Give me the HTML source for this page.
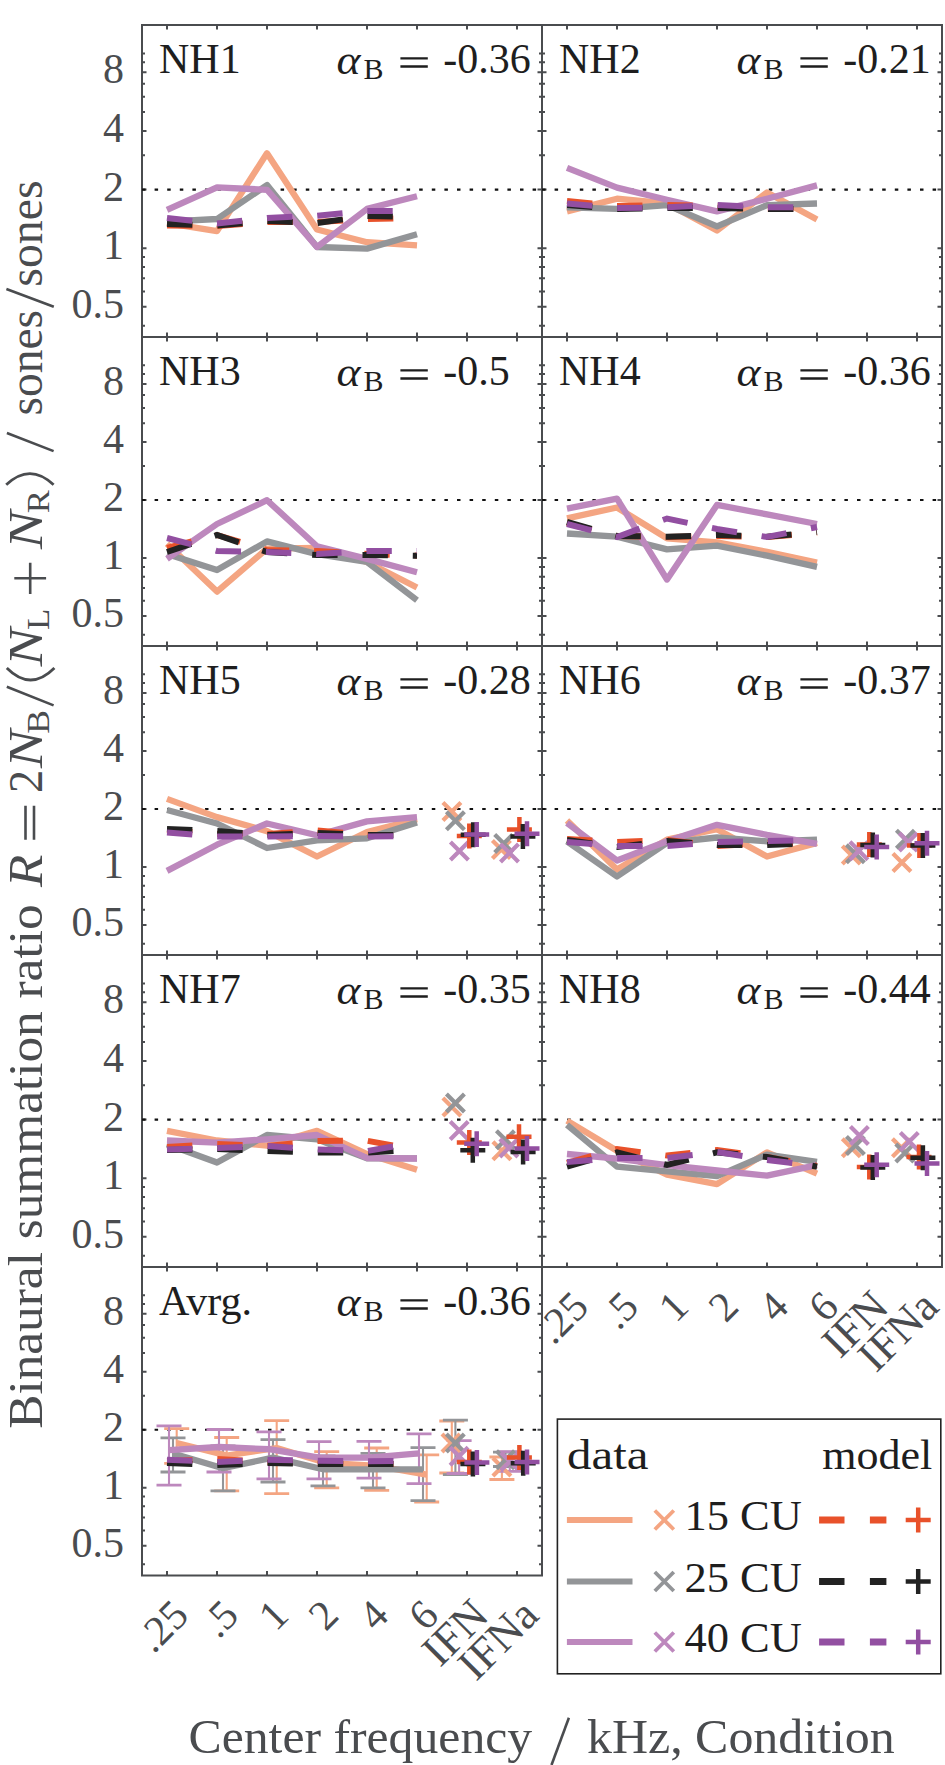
<!DOCTYPE html><html><head><meta charset="utf-8"><style>html,body{margin:0;padding:0;background:#fff}svg{display:block}</style></head><body><svg width="945" height="1765" viewBox="0 0 945 1765">
<style>text{font-family:"Liberation Serif",serif;}.tl{font-size:42px;fill:#4a4c4f}.pl{font-size:42px;fill:#1e1e1e}.al{font-size:48px;fill:#4a4c4f}</style>
<rect width="945" height="1765" fill="#fff"/>
<rect x="142" y="25" width="400" height="312" fill="none" stroke="#4a4c4f" stroke-width="2"/>
<path d="M167 25v4.5M167 337v-4.5M217 25v4.5M217 337v-4.5M267 25v4.5M267 337v-4.5M317 25v4.5M317 337v-4.5M367 25v4.5M367 337v-4.5M417 25v4.5M417 337v-4.5M467 25v4.5M467 337v-4.5M517 25v4.5M517 337v-4.5M142 306.83h4.5M542 306.83h-4.5M142 248.21h4.5M542 248.21h-4.5M142 189.58h4.5M542 189.58h-4.5M142 130.96h4.5M542 130.96h-4.5M142 72.33h4.5M542 72.33h-4.5M142 325.71h3M542 325.71h-3M142 291.41h3M542 291.41h-3M142 278.37h3M542 278.37h-3M142 267.08h3M542 267.08h-3M142 257.12h3M542 257.12h-3M142 155.29h3M542 155.29h-3M142 112.08h3M542 112.08h-3M142 96.66h3M542 96.66h-3M142 83.63h3M542 83.63h-3M142 62.37h3M542 62.37h-3M142 53.46h3M542 53.46h-3" stroke="#4a4c4f" stroke-width="2" fill="none"/>
<line x1="142" y1="189.58" x2="542" y2="189.58" stroke="#111" stroke-width="2.2" stroke-dasharray="3.5 9.1"/>
<rect x="542" y="25" width="400" height="312" fill="none" stroke="#4a4c4f" stroke-width="2"/>
<path d="M567 25v4.5M567 337v-4.5M617 25v4.5M617 337v-4.5M667 25v4.5M667 337v-4.5M717 25v4.5M717 337v-4.5M767 25v4.5M767 337v-4.5M817 25v4.5M817 337v-4.5M867 25v4.5M867 337v-4.5M917 25v4.5M917 337v-4.5M542 306.83h4.5M942 306.83h-4.5M542 248.21h4.5M942 248.21h-4.5M542 189.58h4.5M942 189.58h-4.5M542 130.96h4.5M942 130.96h-4.5M542 72.33h4.5M942 72.33h-4.5M542 325.71h3M942 325.71h-3M542 291.41h3M942 291.41h-3M542 278.37h3M942 278.37h-3M542 267.08h3M942 267.08h-3M542 257.12h3M942 257.12h-3M542 155.29h3M942 155.29h-3M542 112.08h3M942 112.08h-3M542 96.66h3M942 96.66h-3M542 83.63h3M942 83.63h-3M542 62.37h3M942 62.37h-3M542 53.46h3M942 53.46h-3" stroke="#4a4c4f" stroke-width="2" fill="none"/>
<line x1="542" y1="189.58" x2="942" y2="189.58" stroke="#111" stroke-width="2.2" stroke-dasharray="3.5 9.1"/>
<rect x="142" y="337" width="400" height="309" fill="none" stroke="#4a4c4f" stroke-width="2"/>
<path d="M167 337v4.5M167 646v-4.5M217 337v4.5M217 646v-4.5M267 337v4.5M267 646v-4.5M317 337v4.5M317 646v-4.5M367 337v4.5M367 646v-4.5M417 337v4.5M417 646v-4.5M467 337v4.5M467 646v-4.5M517 337v4.5M517 646v-4.5M142 616.12h4.5M542 616.12h-4.5M142 558.06h4.5M542 558.06h-4.5M142 500h4.5M542 500h-4.5M142 441.94h4.5M542 441.94h-4.5M142 383.88h4.5M542 383.88h-4.5M142 634.81h3M542 634.81h-3M142 600.85h3M542 600.85h-3M142 587.94h3M542 587.94h-3M142 576.75h3M542 576.75h-3M142 566.89h3M542 566.89h-3M142 466.04h3M542 466.04h-3M142 423.25h3M542 423.25h-3M142 407.97h3M542 407.97h-3M142 395.06h3M542 395.06h-3M142 374.01h3M542 374.01h-3M142 365.18h3M542 365.18h-3" stroke="#4a4c4f" stroke-width="2" fill="none"/>
<line x1="142" y1="500" x2="542" y2="500" stroke="#111" stroke-width="2.2" stroke-dasharray="3.5 9.1"/>
<rect x="542" y="337" width="400" height="309" fill="none" stroke="#4a4c4f" stroke-width="2"/>
<path d="M567 337v4.5M567 646v-4.5M617 337v4.5M617 646v-4.5M667 337v4.5M667 646v-4.5M717 337v4.5M717 646v-4.5M767 337v4.5M767 646v-4.5M817 337v4.5M817 646v-4.5M867 337v4.5M867 646v-4.5M917 337v4.5M917 646v-4.5M542 616.12h4.5M942 616.12h-4.5M542 558.06h4.5M942 558.06h-4.5M542 500h4.5M942 500h-4.5M542 441.94h4.5M942 441.94h-4.5M542 383.88h4.5M942 383.88h-4.5M542 634.81h3M942 634.81h-3M542 600.85h3M942 600.85h-3M542 587.94h3M942 587.94h-3M542 576.75h3M942 576.75h-3M542 566.89h3M942 566.89h-3M542 466.04h3M942 466.04h-3M542 423.25h3M942 423.25h-3M542 407.97h3M942 407.97h-3M542 395.06h3M942 395.06h-3M542 374.01h3M942 374.01h-3M542 365.18h3M942 365.18h-3" stroke="#4a4c4f" stroke-width="2" fill="none"/>
<line x1="542" y1="500" x2="942" y2="500" stroke="#111" stroke-width="2.2" stroke-dasharray="3.5 9.1"/>
<rect x="142" y="646" width="400" height="309" fill="none" stroke="#4a4c4f" stroke-width="2"/>
<path d="M167 646v4.5M167 955v-4.5M217 646v4.5M217 955v-4.5M267 646v4.5M267 955v-4.5M317 646v4.5M317 955v-4.5M367 646v4.5M367 955v-4.5M417 646v4.5M417 955v-4.5M467 646v4.5M467 955v-4.5M517 646v4.5M517 955v-4.5M142 925.12h4.5M542 925.12h-4.5M142 867.06h4.5M542 867.06h-4.5M142 809h4.5M542 809h-4.5M142 750.94h4.5M542 750.94h-4.5M142 692.88h4.5M542 692.88h-4.5M142 943.81h3M542 943.81h-3M142 909.85h3M542 909.85h-3M142 896.94h3M542 896.94h-3M142 885.75h3M542 885.75h-3M142 875.89h3M542 875.89h-3M142 775.04h3M542 775.04h-3M142 732.25h3M542 732.25h-3M142 716.97h3M542 716.97h-3M142 704.06h3M542 704.06h-3M142 683.01h3M542 683.01h-3M142 674.18h3M542 674.18h-3" stroke="#4a4c4f" stroke-width="2" fill="none"/>
<line x1="142" y1="809" x2="542" y2="809" stroke="#111" stroke-width="2.2" stroke-dasharray="3.5 9.1"/>
<rect x="542" y="646" width="400" height="309" fill="none" stroke="#4a4c4f" stroke-width="2"/>
<path d="M567 646v4.5M567 955v-4.5M617 646v4.5M617 955v-4.5M667 646v4.5M667 955v-4.5M717 646v4.5M717 955v-4.5M767 646v4.5M767 955v-4.5M817 646v4.5M817 955v-4.5M867 646v4.5M867 955v-4.5M917 646v4.5M917 955v-4.5M542 925.12h4.5M942 925.12h-4.5M542 867.06h4.5M942 867.06h-4.5M542 809h4.5M942 809h-4.5M542 750.94h4.5M942 750.94h-4.5M542 692.88h4.5M942 692.88h-4.5M542 943.81h3M942 943.81h-3M542 909.85h3M942 909.85h-3M542 896.94h3M942 896.94h-3M542 885.75h3M942 885.75h-3M542 875.89h3M942 875.89h-3M542 775.04h3M942 775.04h-3M542 732.25h3M942 732.25h-3M542 716.97h3M942 716.97h-3M542 704.06h3M942 704.06h-3M542 683.01h3M942 683.01h-3M542 674.18h3M942 674.18h-3" stroke="#4a4c4f" stroke-width="2" fill="none"/>
<line x1="542" y1="809" x2="942" y2="809" stroke="#111" stroke-width="2.2" stroke-dasharray="3.5 9.1"/>
<rect x="142" y="955" width="400" height="312" fill="none" stroke="#4a4c4f" stroke-width="2"/>
<path d="M167 955v4.5M167 1267v-4.5M217 955v4.5M217 1267v-4.5M267 955v4.5M267 1267v-4.5M317 955v4.5M317 1267v-4.5M367 955v4.5M367 1267v-4.5M417 955v4.5M417 1267v-4.5M467 955v4.5M467 1267v-4.5M517 955v4.5M517 1267v-4.5M142 1236.83h4.5M542 1236.83h-4.5M142 1178.21h4.5M542 1178.21h-4.5M142 1119.58h4.5M542 1119.58h-4.5M142 1060.96h4.5M542 1060.96h-4.5M142 1002.33h4.5M542 1002.33h-4.5M142 1255.71h3M542 1255.71h-3M142 1221.41h3M542 1221.41h-3M142 1208.37h3M542 1208.37h-3M142 1197.08h3M542 1197.08h-3M142 1187.12h3M542 1187.12h-3M142 1085.29h3M542 1085.29h-3M142 1042.08h3M542 1042.08h-3M142 1026.66h3M542 1026.66h-3M142 1013.63h3M542 1013.63h-3M142 992.37h3M542 992.37h-3M142 983.46h3M542 983.46h-3" stroke="#4a4c4f" stroke-width="2" fill="none"/>
<line x1="142" y1="1119.58" x2="542" y2="1119.58" stroke="#111" stroke-width="2.2" stroke-dasharray="3.5 9.1"/>
<rect x="542" y="955" width="400" height="312" fill="none" stroke="#4a4c4f" stroke-width="2"/>
<path d="M567 955v4.5M567 1267v-4.5M617 955v4.5M617 1267v-4.5M667 955v4.5M667 1267v-4.5M717 955v4.5M717 1267v-4.5M767 955v4.5M767 1267v-4.5M817 955v4.5M817 1267v-4.5M867 955v4.5M867 1267v-4.5M917 955v4.5M917 1267v-4.5M542 1236.83h4.5M942 1236.83h-4.5M542 1178.21h4.5M942 1178.21h-4.5M542 1119.58h4.5M942 1119.58h-4.5M542 1060.96h4.5M942 1060.96h-4.5M542 1002.33h4.5M942 1002.33h-4.5M542 1255.71h3M942 1255.71h-3M542 1221.41h3M942 1221.41h-3M542 1208.37h3M942 1208.37h-3M542 1197.08h3M942 1197.08h-3M542 1187.12h3M942 1187.12h-3M542 1085.29h3M942 1085.29h-3M542 1042.08h3M942 1042.08h-3M542 1026.66h3M942 1026.66h-3M542 1013.63h3M942 1013.63h-3M542 992.37h3M942 992.37h-3M542 983.46h3M942 983.46h-3" stroke="#4a4c4f" stroke-width="2" fill="none"/>
<line x1="542" y1="1119.58" x2="942" y2="1119.58" stroke="#111" stroke-width="2.2" stroke-dasharray="3.5 9.1"/>
<rect x="142" y="1267" width="400" height="308.5" fill="none" stroke="#4a4c4f" stroke-width="2"/>
<path d="M167 1267v4.5M167 1575.5v-4.5M217 1267v4.5M217 1575.5v-4.5M267 1267v4.5M267 1575.5v-4.5M317 1267v4.5M317 1575.5v-4.5M367 1267v4.5M367 1575.5v-4.5M417 1267v4.5M417 1575.5v-4.5M467 1267v4.5M467 1575.5v-4.5M517 1267v4.5M517 1575.5v-4.5M142 1545.67h4.5M542 1545.67h-4.5M142 1487.7h4.5M542 1487.7h-4.5M142 1429.74h4.5M542 1429.74h-4.5M142 1371.77h4.5M542 1371.77h-4.5M142 1313.8h4.5M542 1313.8h-4.5M142 1564.33h3M542 1564.33h-3M142 1530.42h3M542 1530.42h-3M142 1517.53h3M542 1517.53h-3M142 1506.37h3M542 1506.37h-3M142 1496.51h3M542 1496.51h-3M142 1395.83h3M542 1395.83h-3M142 1353.11h3M542 1353.11h-3M142 1337.86h3M542 1337.86h-3M142 1324.97h3M542 1324.97h-3M142 1303.95h3M542 1303.95h-3M142 1295.14h3M542 1295.14h-3" stroke="#4a4c4f" stroke-width="2" fill="none"/>
<line x1="142" y1="1429.74" x2="542" y2="1429.74" stroke="#111" stroke-width="2.2" stroke-dasharray="3.5 9.1"/>
<polyline points="167,223.2 217,231.1 267,153.3 317,229.5 367,242.2 417,245.4" fill="none" stroke="#f4a582" stroke-width="6.3" stroke-linejoin="round"/>
<polyline points="167,221.6 217,219 267,185.1 317,247 367,248.6 417,234.3" fill="none" stroke="#939598" stroke-width="6.3" stroke-linejoin="round"/>
<polyline points="167,209.8 217,187.3 267,189.8 317,247 367,208.9 417,196.2" fill="none" stroke="#bd88bd" stroke-width="6.3" stroke-linejoin="round"/>
<polyline points="167,225.5 217,226 267,222 317,222 367,219 417,218" fill="none" stroke="#e8512a" stroke-width="6" stroke-dasharray="25.4 24.9"/>
<polyline points="167,224 217,225.5 267,221 317,223 367,216 417,217" fill="none" stroke="#222222" stroke-width="6" stroke-dasharray="25.4 24.9"/>
<polyline points="167,218 217,223.5 267,218 317,215.7 367,211 417,211" fill="none" stroke="#924fa1" stroke-width="6" stroke-dasharray="25.4 24.9"/>
<polyline points="567,211.4 617,198.7 667,203.5 717,230.5 767,192.4 817,219.4" fill="none" stroke="#f4a582" stroke-width="6.3" stroke-linejoin="round"/>
<polyline points="567,207.3 617,208.9 667,205.1 717,226.3 767,205.1 817,203.5" fill="none" stroke="#939598" stroke-width="6.3" stroke-linejoin="round"/>
<polyline points="567,167.9 617,187.6 667,199.7 717,211.4 767,198.7 817,185.4" fill="none" stroke="#bd88bd" stroke-width="6.3" stroke-linejoin="round"/>
<polyline points="567,201 617,206 667,205 717,206 767,209 817,209" fill="none" stroke="#e8512a" stroke-width="6" stroke-dasharray="25.4 24.9"/>
<polyline points="567,205 617,209 667,208 717,208 767,209 817,209" fill="none" stroke="#222222" stroke-width="6" stroke-dasharray="25.4 24.9"/>
<polyline points="567,203.5 617,208 667,207.3 717,205 767,207.3 817,207" fill="none" stroke="#924fa1" stroke-width="6" stroke-dasharray="25.4 24.9"/>
<polyline points="167,543.7 217,591.6 267,548.7 317,547.8 367,562 417,587.5" fill="none" stroke="#f4a582" stroke-width="6.3" stroke-linejoin="round"/>
<polyline points="167,554.1 217,570 267,541.4 317,554.1 367,562 417,600.2" fill="none" stroke="#939598" stroke-width="6.3" stroke-linejoin="round"/>
<polyline points="167,558.9 217,524 267,500.2 317,546.2 367,558.9 417,572.2" fill="none" stroke="#bd88bd" stroke-width="6.3" stroke-linejoin="round"/>
<polyline points="167,547.8 217,535 267,550 317,551 367,554 417,555.7" fill="none" stroke="#e8512a" stroke-width="6" stroke-dasharray="25.4 24.9"/>
<polyline points="167,552 217,535 267,552 317,555 367,555 417,555.7" fill="none" stroke="#222222" stroke-width="6" stroke-dasharray="25.4 24.9"/>
<polyline points="167,538 217,551 267,552 317,554 367,551 417,551" fill="none" stroke="#924fa1" stroke-width="6" stroke-dasharray="25.4 24.9"/>
<polyline points="567,518.3 617,507.5 667,538.3 717,542.4 767,551.9 817,562.7" fill="none" stroke="#f4a582" stroke-width="6.3" stroke-linejoin="round"/>
<polyline points="567,533.5 617,536.7 667,549.4 717,545.6 767,555.7 817,566.8" fill="none" stroke="#939598" stroke-width="6.3" stroke-linejoin="round"/>
<polyline points="567,508.7 617,498.6 667,579.5 717,504.9 767,514.4 817,524" fill="none" stroke="#bd88bd" stroke-width="6.3" stroke-linejoin="round"/>
<polyline points="567,523 617,536 667,537 717,536 767,537 817,533" fill="none" stroke="#e8512a" stroke-width="6" stroke-dasharray="25.4 24.9"/>
<polyline points="567,522 617,536 667,536.7 717,535 767,536.7 817,532" fill="none" stroke="#222222" stroke-width="6" stroke-dasharray="25.4 24.9"/>
<polyline points="567,524 617,537 667,518.5 717,529 767,537 817,527" fill="none" stroke="#924fa1" stroke-width="6" stroke-dasharray="25.4 24.9"/>
<polyline points="167,798.9 217,817.1 267,831.1 317,856.5 367,832 417,819.3" fill="none" stroke="#f4a582" stroke-width="6.3" stroke-linejoin="round"/>
<polyline points="167,810 217,823.5 267,848 317,840.4 367,838.3 417,822.6" fill="none" stroke="#939598" stroke-width="6.3" stroke-linejoin="round"/>
<polyline points="167,870.9 217,844.7 267,823.5 317,835.3 367,821.4 417,817.1" fill="none" stroke="#bd88bd" stroke-width="6.3" stroke-linejoin="round"/>
<polyline points="167,830 217,834 267,834 317,830.5 367,835 417,835" fill="none" stroke="#e8512a" stroke-width="6" stroke-dasharray="25.4 24.9"/>
<polyline points="167,829 217,831 267,835 317,833 367,835 417,835" fill="none" stroke="#222222" stroke-width="6" stroke-dasharray="25.4 24.9"/>
<polyline points="167,832.5 217,836.5 267,836.5 317,836 367,836.5 417,836" fill="none" stroke="#924fa1" stroke-width="6" stroke-dasharray="25.4 24.9"/>
<path d="M442.9 802.5l18 18M442.9 820.5l18 -18" stroke="#f4a582" stroke-width="4.2"/>
<path d="M446.4 811.8l18 18M446.4 829.8l18 -18" stroke="#939598" stroke-width="4.2"/>
<path d="M450.4 842.1l18 18M450.4 860.1l18 -18" stroke="#bd88bd" stroke-width="4.2"/>
<path d="M456.8 836h25M469.3 823.5v25" stroke="#e8512a" stroke-width="4.5"/>
<path d="M460.7 834.8h25M473.2 822.3v25" stroke="#222222" stroke-width="4.5"/>
<path d="M464.2 834.5h25M476.7 822v25" stroke="#924fa1" stroke-width="4.5"/>
<path d="M492.4 840.4l18 18M492.4 858.4l18 -18" stroke="#f4a582" stroke-width="4.2"/>
<path d="M494.7 834.5l18 18M494.7 852.5l18 -18" stroke="#939598" stroke-width="4.2"/>
<path d="M500.5 843.9l18 18M500.5 861.9l18 -18" stroke="#bd88bd" stroke-width="4.2"/>
<path d="M506.9 829.6h25M519.4 817.1v25" stroke="#e8512a" stroke-width="4.5"/>
<path d="M510.4 836.6h25M522.9 824.1v25" stroke="#222222" stroke-width="4.5"/>
<path d="M514.5 833.7h25M527 821.2v25" stroke="#924fa1" stroke-width="4.5"/>
<polyline points="567,820.6 617,869.5 667,839.7 717,829.2 767,856.5 817,842.9" fill="none" stroke="#f4a582" stroke-width="6.3" stroke-linejoin="round"/>
<polyline points="567,841.3 617,876.5 667,842.9 717,837.5 767,841.3 817,839.7" fill="none" stroke="#939598" stroke-width="6.3" stroke-linejoin="round"/>
<polyline points="567,822.9 617,860.5 667,841.3 717,824.8 767,834.9 817,843.8" fill="none" stroke="#bd88bd" stroke-width="6.3" stroke-linejoin="round"/>
<polyline points="567,839 617,842 667,840 717,846 767,843 817,843" fill="none" stroke="#e8512a" stroke-width="6" stroke-dasharray="25.4 24.9"/>
<polyline points="567,840 617,847 667,841 717,845 767,845 817,843" fill="none" stroke="#222222" stroke-width="6" stroke-dasharray="25.4 24.9"/>
<polyline points="567,841.9 617,846 667,846 717,841.9 767,841 817,840" fill="none" stroke="#924fa1" stroke-width="6" stroke-dasharray="25.4 24.9"/>
<path d="M842.3 845.9l18 18M842.3 863.9l18 -18" stroke="#f4a582" stroke-width="4.2"/>
<path d="M846.4 844.8l18 18M846.4 862.8l18 -18" stroke="#939598" stroke-width="4.2"/>
<path d="M849.9 841.8l18 18M849.9 859.8l18 -18" stroke="#bd88bd" stroke-width="4.2"/>
<path d="M856.8 844.4h25M869.3 831.9v25" stroke="#e8512a" stroke-width="4.5"/>
<path d="M860.3 845h25M872.8 832.5v25" stroke="#222222" stroke-width="4.5"/>
<path d="M864.2 847h25M876.7 834.5v25" stroke="#924fa1" stroke-width="4.5"/>
<path d="M892.9 853.5l18 18M892.9 871.5l18 -18" stroke="#f4a582" stroke-width="4.2"/>
<path d="M896.4 830.2l18 18M896.4 848.2l18 -18" stroke="#939598" stroke-width="4.2"/>
<path d="M899.3 833.1l18 18M899.3 851.1l18 -18" stroke="#bd88bd" stroke-width="4.2"/>
<path d="M906.9 845.6h25M919.4 833.1v25" stroke="#e8512a" stroke-width="4.5"/>
<path d="M910.4 845.6h25M922.9 833.1v25" stroke="#222222" stroke-width="4.5"/>
<path d="M914.5 843.3h25M927 830.8v25" stroke="#924fa1" stroke-width="4.5"/>
<polyline points="167,1130.8 217,1140.5 267,1145.6 317,1130.8 367,1154 417,1169.7" fill="none" stroke="#f4a582" stroke-width="6.3" stroke-linejoin="round"/>
<polyline points="167,1144.3 217,1162.5 267,1135 317,1139.3 367,1158.3 417,1158.3" fill="none" stroke="#939598" stroke-width="6.3" stroke-linejoin="round"/>
<polyline points="167,1140.5 217,1142.6 267,1139.3 317,1135 367,1158 417,1158.5" fill="none" stroke="#bd88bd" stroke-width="6.3" stroke-linejoin="round"/>
<polyline points="167,1147 217,1144 267,1146 317,1141 367,1140.7 417,1150" fill="none" stroke="#e8512a" stroke-width="6" stroke-dasharray="25.4 24.9"/>
<polyline points="167,1150 217,1149 267,1151 317,1152.5 367,1152.6 417,1149.6" fill="none" stroke="#222222" stroke-width="6" stroke-dasharray="25.4 24.9"/>
<polyline points="167,1149.5 217,1148 267,1146 317,1149.5 367,1151 417,1142.5" fill="none" stroke="#924fa1" stroke-width="6" stroke-dasharray="25.4 24.9"/>
<path d="M442.9 1098.1l18 18M442.9 1116.1l18 -18" stroke="#f4a582" stroke-width="4.2"/>
<path d="M446.4 1094l18 18M446.4 1112l18 -18" stroke="#939598" stroke-width="4.2"/>
<path d="M450.2 1121.4l18 18M450.2 1139.4l18 -18" stroke="#bd88bd" stroke-width="4.2"/>
<path d="M456.8 1142.6h25M469.3 1130.1v25" stroke="#e8512a" stroke-width="4.5"/>
<path d="M460.3 1150.2h25M472.8 1137.7v25" stroke="#222222" stroke-width="4.5"/>
<path d="M464.2 1143.8h25M476.7 1131.3v25" stroke="#924fa1" stroke-width="4.5"/>
<path d="M492.9 1141.8l18 18M492.9 1159.8l18 -18" stroke="#f4a582" stroke-width="4.2"/>
<path d="M496.4 1130.7l18 18M496.4 1148.7l18 -18" stroke="#939598" stroke-width="4.2"/>
<path d="M499.9 1138.9l18 18M499.9 1156.9l18 -18" stroke="#bd88bd" stroke-width="4.2"/>
<path d="M506.5 1136.8h25M519 1124.3v25" stroke="#e8512a" stroke-width="4.5"/>
<path d="M510.6 1151.9h25M523.1 1139.4v25" stroke="#222222" stroke-width="4.5"/>
<path d="M514.5 1148.4h25M527 1135.9v25" stroke="#924fa1" stroke-width="4.5"/>
<polyline points="567,1120.6 617,1150.8 667,1174.6 717,1184.1 767,1152.4 817,1173.7" fill="none" stroke="#f4a582" stroke-width="6.3" stroke-linejoin="round"/>
<polyline points="567,1124.8 617,1166.7 667,1171.4 717,1176.2 767,1154.6 817,1161.9" fill="none" stroke="#939598" stroke-width="6.3" stroke-linejoin="round"/>
<polyline points="567,1154 617,1158.7 667,1165.1 717,1170.5 767,1175.6 817,1165.1" fill="none" stroke="#bd88bd" stroke-width="6.3" stroke-linejoin="round"/>
<polyline points="567,1163 617,1149 667,1155.6 717,1150 767,1157 817,1166" fill="none" stroke="#e8512a" stroke-width="6" stroke-dasharray="25.4 24.9"/>
<polyline points="567,1166.7 617,1152.4 667,1165 717,1152.4 767,1157 817,1166.7" fill="none" stroke="#222222" stroke-width="6" stroke-dasharray="25.4 24.9"/>
<polyline points="567,1162 617,1158 667,1158 717,1152 767,1160 817,1166" fill="none" stroke="#924fa1" stroke-width="6" stroke-dasharray="25.4 24.9"/>
<path d="M842.3 1138.8l18 18M842.3 1156.8l18 -18" stroke="#f4a582" stroke-width="4.2"/>
<path d="M846.4 1136.5l18 18M846.4 1154.5l18 -18" stroke="#939598" stroke-width="4.2"/>
<path d="M850.4 1126.6l18 18M850.4 1144.6l18 -18" stroke="#bd88bd" stroke-width="4.2"/>
<path d="M856.8 1167h25M869.3 1154.5v25" stroke="#e8512a" stroke-width="4.5"/>
<path d="M860.3 1167.6h25M872.8 1155.1v25" stroke="#222222" stroke-width="4.5"/>
<path d="M864.2 1164.7h25M876.7 1152.2v25" stroke="#924fa1" stroke-width="4.5"/>
<path d="M892.4 1138.8l18 18M892.4 1156.8l18 -18" stroke="#f4a582" stroke-width="4.2"/>
<path d="M895.8 1144l18 18M895.8 1162l18 -18" stroke="#939598" stroke-width="4.2"/>
<path d="M900.3 1132.4l18 18M900.3 1150.4l18 -18" stroke="#bd88bd" stroke-width="4.2"/>
<path d="M906.5 1157.1h25M919 1144.6v25" stroke="#e8512a" stroke-width="4.5"/>
<path d="M910.4 1157.7h25M922.9 1145.2v25" stroke="#222222" stroke-width="4.5"/>
<path d="M914.5 1163.6h25M927 1151.1v25" stroke="#924fa1" stroke-width="4.5"/>
<path d="M176.7 1428.6V1463.3" stroke="#f4a582" stroke-width="2.1"/>
<path d="M164.2 1428.6h25M164.2 1463.3h25" stroke="#f4a582" stroke-width="2.8"/>
<path d="M173 1437.9V1472" stroke="#939598" stroke-width="2.1"/>
<path d="M160.5 1437.9h25M160.5 1472h25" stroke="#939598" stroke-width="2.8"/>
<path d="M169 1425.9V1485.1" stroke="#bd88bd" stroke-width="2.1"/>
<path d="M156.5 1425.9h25M156.5 1485.1h25" stroke="#bd88bd" stroke-width="2.8"/>
<path d="M226.7 1437.5V1490.8" stroke="#f4a582" stroke-width="2.1"/>
<path d="M214.2 1437.5h25M214.2 1490.8h25" stroke="#f4a582" stroke-width="2.8"/>
<path d="M223 1446V1490.8" stroke="#939598" stroke-width="2.1"/>
<path d="M210.5 1446h25M210.5 1490.8h25" stroke="#939598" stroke-width="2.8"/>
<path d="M219 1429.5V1472" stroke="#bd88bd" stroke-width="2.1"/>
<path d="M206.5 1429.5h25M206.5 1472h25" stroke="#bd88bd" stroke-width="2.8"/>
<path d="M276.7 1420.6V1493.6" stroke="#f4a582" stroke-width="2.1"/>
<path d="M264.2 1420.6h25M264.2 1493.6h25" stroke="#f4a582" stroke-width="2.8"/>
<path d="M273 1439.6V1482" stroke="#939598" stroke-width="2.1"/>
<path d="M260.5 1439.6h25M260.5 1482h25" stroke="#939598" stroke-width="2.8"/>
<path d="M269 1431.8V1478.8" stroke="#bd88bd" stroke-width="2.1"/>
<path d="M256.5 1431.8h25M256.5 1478.8h25" stroke="#bd88bd" stroke-width="2.8"/>
<path d="M326.7 1451.7V1487.9" stroke="#f4a582" stroke-width="2.1"/>
<path d="M314.2 1451.7h25M314.2 1487.9h25" stroke="#f4a582" stroke-width="2.8"/>
<path d="M323 1456V1485.8" stroke="#939598" stroke-width="2.1"/>
<path d="M310.5 1456h25M310.5 1485.8h25" stroke="#939598" stroke-width="2.8"/>
<path d="M319 1441.7V1478.8" stroke="#bd88bd" stroke-width="2.1"/>
<path d="M306.5 1441.7h25M306.5 1478.8h25" stroke="#bd88bd" stroke-width="2.8"/>
<path d="M376.7 1448V1490.4" stroke="#f4a582" stroke-width="2.1"/>
<path d="M364.2 1448h25M364.2 1490.4h25" stroke="#f4a582" stroke-width="2.8"/>
<path d="M373 1453.4V1487.9" stroke="#939598" stroke-width="2.1"/>
<path d="M360.5 1453.4h25M360.5 1487.9h25" stroke="#939598" stroke-width="2.8"/>
<path d="M369 1441.3V1478.1" stroke="#bd88bd" stroke-width="2.1"/>
<path d="M356.5 1441.3h25M356.5 1478.1h25" stroke="#bd88bd" stroke-width="2.8"/>
<path d="M426.7 1454.9V1502" stroke="#f4a582" stroke-width="2.1"/>
<path d="M414.2 1454.9h25M414.2 1502h25" stroke="#f4a582" stroke-width="2.8"/>
<path d="M423 1447.7V1500.6" stroke="#939598" stroke-width="2.1"/>
<path d="M410.5 1447.7h25M410.5 1500.6h25" stroke="#939598" stroke-width="2.8"/>
<path d="M419 1433.9V1483.7" stroke="#bd88bd" stroke-width="2.1"/>
<path d="M406.5 1433.9h25M406.5 1483.7h25" stroke="#bd88bd" stroke-width="2.8"/>
<polyline points="176.7,1443 226.7,1455.5 276.7,1448 326.7,1462.9 376.7,1466 426.7,1474.6" fill="none" stroke="#f4a582" stroke-width="6.3" stroke-linejoin="round"/>
<polyline points="173,1453.4 223,1468.2 273,1457.6 323,1469.3 373,1469.3 423,1469.3" fill="none" stroke="#939598" stroke-width="6.3" stroke-linejoin="round"/>
<polyline points="169,1450.2 219,1447 269,1449.2 319,1457.6 369,1457.6 419,1453.4" fill="none" stroke="#bd88bd" stroke-width="6.3" stroke-linejoin="round"/>
<polyline points="167,1461 217,1459 267,1462 317,1463 367,1464 417,1464" fill="none" stroke="#e8512a" stroke-width="6" stroke-dasharray="25.4 24.9"/>
<polyline points="167,1463 217,1465 267,1463 317,1464 367,1464 417,1464" fill="none" stroke="#222222" stroke-width="6" stroke-dasharray="25.4 24.9"/>
<polyline points="167,1459.7 217,1461.9 267,1459.7 317,1460.8 367,1461.2 417,1461" fill="none" stroke="#924fa1" stroke-width="6" stroke-dasharray="25.4 24.9"/>
<path d="M451.8 1421V1473" stroke="#f4a582" stroke-width="2.1"/>
<path d="M439.3 1421h25M439.3 1473h25" stroke="#f4a582" stroke-width="2.8"/>
<path d="M455.4 1420.2V1474.6" stroke="#939598" stroke-width="2.1"/>
<path d="M442.9 1420.2h25M442.9 1474.6h25" stroke="#939598" stroke-width="2.8"/>
<path d="M459.1 1440.7V1473.5" stroke="#bd88bd" stroke-width="2.1"/>
<path d="M446.6 1440.7h25M446.6 1473.5h25" stroke="#bd88bd" stroke-width="2.8"/>
<path d="M501.9 1457V1479.5" stroke="#f4a582" stroke-width="2.1"/>
<path d="M489.4 1457h25M489.4 1479.5h25" stroke="#f4a582" stroke-width="2.8"/>
<path d="M505.5 1452.2V1466.5" stroke="#939598" stroke-width="2.1"/>
<path d="M493 1452.2h25M493 1466.5h25" stroke="#939598" stroke-width="2.8"/>
<path d="M509.8 1451.6V1471.3" stroke="#bd88bd" stroke-width="2.1"/>
<path d="M497.3 1451.6h25M497.3 1471.3h25" stroke="#bd88bd" stroke-width="2.8"/>
<path d="M442 1434l18 18M442 1452l18 -18" stroke="#f4a582" stroke-width="4.2"/>
<path d="M446.3 1434l18 18M446.3 1452l18 -18" stroke="#939598" stroke-width="4.2"/>
<path d="M450.1 1447.3l18 18M450.1 1465.3l18 -18" stroke="#bd88bd" stroke-width="4.2"/>
<path d="M456.8 1462h25M469.3 1449.5v25" stroke="#e8512a" stroke-width="4.5"/>
<path d="M460.4 1464h25M472.9 1451.5v25" stroke="#222222" stroke-width="4.5"/>
<path d="M464.4 1462.4h25M476.9 1449.9v25" stroke="#924fa1" stroke-width="4.5"/>
<path d="M492.9 1458l18 18M492.9 1476l18 -18" stroke="#f4a582" stroke-width="4.2"/>
<path d="M496.5 1450.8l18 18M496.5 1468.8l18 -18" stroke="#939598" stroke-width="4.2"/>
<path d="M500.8 1452.5l18 18M500.8 1470.5l18 -18" stroke="#bd88bd" stroke-width="4.2"/>
<path d="M506.9 1457.6h25M519.4 1445.1v25" stroke="#e8512a" stroke-width="4.5"/>
<path d="M510.7 1463.2h25M523.2 1450.7v25" stroke="#222222" stroke-width="4.5"/>
<path d="M514.5 1462h25M527 1449.5v25" stroke="#924fa1" stroke-width="4.5"/>
<text x="159" y="73.1" class="pl">NH1</text>
<text x="443.3" y="73.1" class="pl">-0.36</text>
<text transform="translate(336.5 73.8) scale(1.09 1)" class="pl" font-style="italic">&#945;</text>
<text x="363.5" y="79.2" class="pl" style="font-size:30px">B</text>
<path d="M400.4 58.3h27.4M400.4 66.5h27.4" stroke="#1e1e1e" stroke-width="2.3"/>
<text x="559" y="73.1" class="pl">NH2</text>
<text x="843.3" y="73.1" class="pl">-0.21</text>
<text transform="translate(736.5 73.8) scale(1.09 1)" class="pl" font-style="italic">&#945;</text>
<text x="763.5" y="79.2" class="pl" style="font-size:30px">B</text>
<path d="M800.4 58.3h27.4M800.4 66.5h27.4" stroke="#1e1e1e" stroke-width="2.3"/>
<text x="159" y="385.1" class="pl">NH3</text>
<text x="443.3" y="385.1" class="pl">-0.5</text>
<text transform="translate(336.5 385.8) scale(1.09 1)" class="pl" font-style="italic">&#945;</text>
<text x="363.5" y="391.2" class="pl" style="font-size:30px">B</text>
<path d="M400.4 370.3h27.4M400.4 378.5h27.4" stroke="#1e1e1e" stroke-width="2.3"/>
<text x="559" y="385.1" class="pl">NH4</text>
<text x="843.3" y="385.1" class="pl">-0.36</text>
<text transform="translate(736.5 385.8) scale(1.09 1)" class="pl" font-style="italic">&#945;</text>
<text x="763.5" y="391.2" class="pl" style="font-size:30px">B</text>
<path d="M800.4 370.3h27.4M800.4 378.5h27.4" stroke="#1e1e1e" stroke-width="2.3"/>
<text x="159" y="694.1" class="pl">NH5</text>
<text x="443.3" y="694.1" class="pl">-0.28</text>
<text transform="translate(336.5 694.8) scale(1.09 1)" class="pl" font-style="italic">&#945;</text>
<text x="363.5" y="700.2" class="pl" style="font-size:30px">B</text>
<path d="M400.4 679.3h27.4M400.4 687.5h27.4" stroke="#1e1e1e" stroke-width="2.3"/>
<text x="559" y="694.1" class="pl">NH6</text>
<text x="843.3" y="694.1" class="pl">-0.37</text>
<text transform="translate(736.5 694.8) scale(1.09 1)" class="pl" font-style="italic">&#945;</text>
<text x="763.5" y="700.2" class="pl" style="font-size:30px">B</text>
<path d="M800.4 679.3h27.4M800.4 687.5h27.4" stroke="#1e1e1e" stroke-width="2.3"/>
<text x="159" y="1003.1" class="pl">NH7</text>
<text x="443.3" y="1003.1" class="pl">-0.35</text>
<text transform="translate(336.5 1003.8) scale(1.09 1)" class="pl" font-style="italic">&#945;</text>
<text x="363.5" y="1009.2" class="pl" style="font-size:30px">B</text>
<path d="M400.4 988.3h27.4M400.4 996.5h27.4" stroke="#1e1e1e" stroke-width="2.3"/>
<text x="559" y="1003.1" class="pl">NH8</text>
<text x="843.3" y="1003.1" class="pl">-0.44</text>
<text transform="translate(736.5 1003.8) scale(1.09 1)" class="pl" font-style="italic">&#945;</text>
<text x="763.5" y="1009.2" class="pl" style="font-size:30px">B</text>
<path d="M800.4 988.3h27.4M800.4 996.5h27.4" stroke="#1e1e1e" stroke-width="2.3"/>
<text x="159" y="1315.1" class="pl">Avrg.</text>
<text x="443.3" y="1315.1" class="pl">-0.36</text>
<text transform="translate(336.5 1315.8) scale(1.09 1)" class="pl" font-style="italic">&#945;</text>
<text x="363.5" y="1321.2" class="pl" style="font-size:30px">B</text>
<path d="M400.4 1300.3h27.4M400.4 1308.5h27.4" stroke="#1e1e1e" stroke-width="2.3"/>
<text x="124" y="317.83" text-anchor="end" class="tl">0.5</text>
<text x="124" y="259.21" text-anchor="end" class="tl">1</text>
<text x="124" y="200.58" text-anchor="end" class="tl">2</text>
<text x="124" y="141.96" text-anchor="end" class="tl">4</text>
<text x="124" y="83.33" text-anchor="end" class="tl">8</text>
<text x="124" y="627.12" text-anchor="end" class="tl">0.5</text>
<text x="124" y="569.06" text-anchor="end" class="tl">1</text>
<text x="124" y="511" text-anchor="end" class="tl">2</text>
<text x="124" y="452.94" text-anchor="end" class="tl">4</text>
<text x="124" y="394.88" text-anchor="end" class="tl">8</text>
<text x="124" y="936.12" text-anchor="end" class="tl">0.5</text>
<text x="124" y="878.06" text-anchor="end" class="tl">1</text>
<text x="124" y="820" text-anchor="end" class="tl">2</text>
<text x="124" y="761.94" text-anchor="end" class="tl">4</text>
<text x="124" y="703.88" text-anchor="end" class="tl">8</text>
<text x="124" y="1247.83" text-anchor="end" class="tl">0.5</text>
<text x="124" y="1189.21" text-anchor="end" class="tl">1</text>
<text x="124" y="1130.58" text-anchor="end" class="tl">2</text>
<text x="124" y="1071.96" text-anchor="end" class="tl">4</text>
<text x="124" y="1013.33" text-anchor="end" class="tl">8</text>
<text x="124" y="1556.67" text-anchor="end" class="tl">0.5</text>
<text x="124" y="1498.7" text-anchor="end" class="tl">1</text>
<text x="124" y="1440.74" text-anchor="end" class="tl">2</text>
<text x="124" y="1382.77" text-anchor="end" class="tl">4</text>
<text x="124" y="1324.8" text-anchor="end" class="tl">8</text>
<text transform="translate(190.7 1617.5) rotate(-45)" text-anchor="end" class="tl">.25</text>
<text transform="translate(240.7 1617.5) rotate(-45)" text-anchor="end" class="tl">.5</text>
<text transform="translate(290.7 1617.5) rotate(-45)" text-anchor="end" class="tl">1</text>
<text transform="translate(340.7 1617.5) rotate(-45)" text-anchor="end" class="tl">2</text>
<text transform="translate(390.7 1617.5) rotate(-45)" text-anchor="end" class="tl">4</text>
<text transform="translate(440.7 1617.5) rotate(-45)" text-anchor="end" class="tl">6</text>
<text transform="translate(490.7 1617.5) rotate(-45)" text-anchor="end" class="tl" style="font-size:44.5px">IFN</text>
<text transform="translate(540.7 1617.5) rotate(-45)" text-anchor="end" class="tl" style="font-size:44.5px">IFNa</text>
<text transform="translate(590.7 1309) rotate(-45)" text-anchor="end" class="tl">.25</text>
<text transform="translate(640.7 1309) rotate(-45)" text-anchor="end" class="tl">.5</text>
<text transform="translate(690.7 1309) rotate(-45)" text-anchor="end" class="tl">1</text>
<text transform="translate(740.7 1309) rotate(-45)" text-anchor="end" class="tl">2</text>
<text transform="translate(790.7 1309) rotate(-45)" text-anchor="end" class="tl">4</text>
<text transform="translate(840.7 1309) rotate(-45)" text-anchor="end" class="tl">6</text>
<text transform="translate(890.7 1309) rotate(-45)" text-anchor="end" class="tl" style="font-size:44.5px">IFN</text>
<text transform="translate(940.7 1309) rotate(-45)" text-anchor="end" class="tl" style="font-size:44.5px">IFNa</text>
<text transform="rotate(-90) translate(-1428.77 42.4) scale(1.0691 1)" class="al">Binaural summation ratio</text>
<text transform="rotate(-90) translate(-887 42.4) scale(1.1034 1)" class="al" font-style="italic">R</text>
<text transform="rotate(-90) translate(-792.94 42.4) scale(0.9700 1)" class="al">2</text>
<text transform="rotate(-90) translate(-768 42.4) scale(1.1912 1)" class="al" font-style="italic">N</text>
<text transform="rotate(-90) translate(-733.74 49.3) scale(1.1444 1)" class="al" style="font-size:31px">B</text>
<text transform="rotate(-90) translate(-666.3 42.4) scale(1.1912 1)" class="al" font-style="italic">N</text>
<text transform="rotate(-90) translate(-630.12 49.3) scale(1.1250 1)" class="al" style="font-size:31px">L</text>
<text transform="rotate(-90) translate(-549 42.4) scale(1.1912 1)" class="al" font-style="italic">N</text>
<text transform="rotate(-90) translate(-513.32 49.3) scale(1.1200 1)" class="al" style="font-size:31px">R</text>
<text transform="rotate(-90) translate(-415.58 42.4) scale(0.9903 1)" class="al">sones</text>
<text transform="rotate(-90) translate(-286.69 42.4) scale(0.9971 1)" class="al">sones</text>
<path d="M25.5 805.7V839.7M34 805.7V839.7M30.2 562.7V593.9M14.3 578.3H46.1M53.6 705.4L6.8 686.7M53.6 451.1L6.9 433M53.8 306.7L6.4 289" stroke="#4a4c4f" stroke-width="2.6" fill="none"/>
<path d="M6.8 668Q30.6 692 54.4 668M6.2 484.8Q29.9 462.4 53.6 484.8" stroke="#4a4c4f" stroke-width="2.8" fill="none"/>
<text transform="translate(188.5 1752.8) scale(1.036 1)" class="al">Center frequency</text>
<text transform="translate(587 1752.8) scale(1.040 1)" class="al">kHz, Condition</text>
<path d="M568.9 1717.8L551.5 1765" stroke="#4a4c4f" stroke-width="2.6"/>
<rect x="557.4" y="1419.1" width="383.4" height="254.7" fill="#fff" stroke="#222" stroke-width="1.6"/>
<text transform="translate(567 1468.8) scale(1.165 1)" class="pl">data</text>
<text transform="translate(822.2 1468.8) scale(1.048 1)" class="pl">model</text>
<line x1="566.9" y1="1520" x2="632.5" y2="1520" stroke="#f4a582" stroke-width="6"/>
<path d="M654.8 1510.5l19 19M654.8 1529.5l19 -19" stroke="#f4a582" stroke-width="3.8"/>
<text transform="translate(684.4 1530.2) scale(1.06 1)" class="pl">15 CU</text>
<path d="M819.1 1520h25.4M869.9 1520h16.5" stroke="#e8512a" stroke-width="7"/>
<path d="M905.7 1520h25M918.2 1507.5v25" stroke="#e8512a" stroke-width="4.5"/>
<line x1="566.9" y1="1581.5" x2="632.5" y2="1581.5" stroke="#939598" stroke-width="6"/>
<path d="M654.8 1572l19 19M654.8 1591l19 -19" stroke="#939598" stroke-width="3.8"/>
<text transform="translate(684.4 1591.7) scale(1.06 1)" class="pl">25 CU</text>
<path d="M819.1 1581.5h25.4M869.9 1581.5h16.5" stroke="#222222" stroke-width="7"/>
<path d="M905.7 1581.5h25M918.2 1569v25" stroke="#222222" stroke-width="4.5"/>
<line x1="566.9" y1="1642" x2="632.5" y2="1642" stroke="#bd88bd" stroke-width="6"/>
<path d="M654.8 1632.5l19 19M654.8 1651.5l19 -19" stroke="#bd88bd" stroke-width="3.8"/>
<text transform="translate(684.4 1652.2) scale(1.06 1)" class="pl">40 CU</text>
<path d="M819.1 1642h25.4M869.9 1642h16.5" stroke="#924fa1" stroke-width="7"/>
<path d="M905.7 1642h25M918.2 1629.5v25" stroke="#924fa1" stroke-width="4.5"/>
</svg></body></html>
